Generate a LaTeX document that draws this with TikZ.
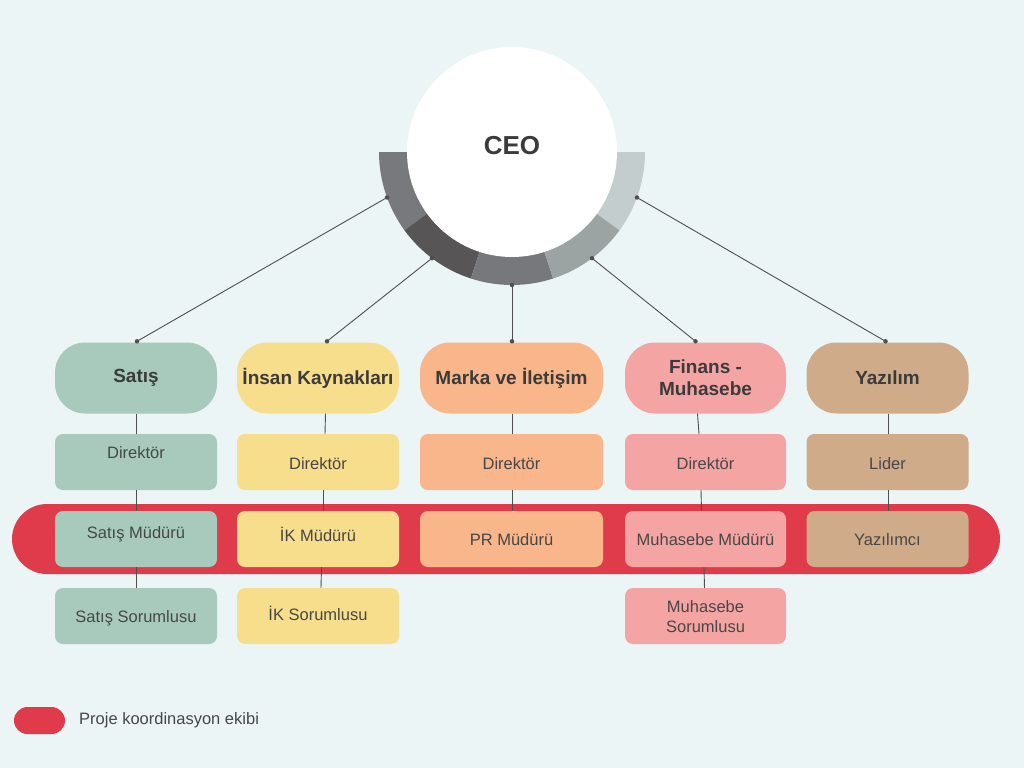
\documentclass[tikz,border=0pt]{standalone}
\usepackage{fontspec}
\setmainfont{Liberation Sans}
\definecolor{bg}{HTML}{EBF5F5}
\definecolor{bandred}{HTML}{E03B4A}
\definecolor{cSat}{HTML}{A8CABD}
\definecolor{cIK}{HTML}{F7DE8C}
\definecolor{cMar}{HTML}{F9B68A}
\definecolor{cFin}{HTML}{F5A4A4}
\definecolor{cYaz}{HTML}{CFAB89}
\definecolor{txt}{HTML}{474747}
\definecolor{txtb}{HTML}{3B3B3B}
\definecolor{linec}{HTML}{4F4F4F}
\definecolor{segA}{HTML}{78797C}
\definecolor{segB}{HTML}{575556}
\definecolor{segC}{HTML}{77787B}
\definecolor{segD}{HTML}{9BA4A3}
\definecolor{segE}{HTML}{C3CDCD}
\begin{document}
\begin{tikzpicture}[x=1pt,y=-1pt,
  dept/.style={rounded corners=30pt, minimum width=162pt, minimum height=71pt, inner sep=0pt, align=center, font=\fontsize{19}{22}\selectfont\bfseries, text=txtb},
  subbox/.style={rounded corners=8pt, minimum width=162pt, minimum height=56pt, inner sep=0pt},
  lbl/.style={font=\fontsize{16.5}{20}\selectfont, text=txt, align=center, inner sep=0pt},
  conn/.style={draw=linec, line width=0.9pt},
  dotc/.style={circle, fill=linec, inner sep=0pt, minimum size=4.5pt}]
\useasboundingbox (0,0) rectangle (1024,768);
\fill[bg] (0,0) rectangle (1024,768);

% project band
\node[fill=bandred, rounded corners=35pt, minimum width=988pt, minimum height=70pt, inner sep=0pt] (band) at (506,539) {};

% CEO ring
\begin{scope}[shift={(512,152)}]
  \fill[segA] (0,0) -- (180:133) arc[start angle=180, end angle=144, radius=133] -- cycle;
  \fill[segB] (0,0) -- (144:133) arc[start angle=144, end angle=108, radius=133] -- cycle;
  \fill[segC] (0,0) -- (108:133) arc[start angle=108, end angle=72, radius=133] -- cycle;
  \fill[segD] (0,0) -- (72:133) arc[start angle=72, end angle=36, radius=133] -- cycle;
  \fill[segE] (0,0) -- (36:133) arc[start angle=36, end angle=0, radius=133] -- cycle;
  \coordinate (r1) at (160:133);
  \coordinate (r2) at (127:133);
  \coordinate (r3) at (90:133);
  \coordinate (r4) at (53:133);
  \coordinate (r5) at (20:133);
\end{scope}
\node[circle, fill=white, minimum size=210pt, inner sep=0pt] (ceoc) at (512,152) {};
\node[font=\fontsize{26}{30}\selectfont\bfseries, text=txtb, inner sep=0pt] (ceo) at (512,146) {CEO};

% departments
\node[dept, fill=cSat] (sat) at (136,378) {Satış};
\node[dept, fill=cIK] (ik) at (318,378) {İnsan Kaynakları};
\node[dept, fill=cMar, minimum width=183pt] (mar) at (511.5,378) {Marka ve İletişim};
\node[dept, fill=cFin, minimum width=161pt] (fin) at (705.5,378) {Finans -\\Muhasebe};
\node[dept, fill=cYaz] (yaz) at (887.5,378) {Yazılım};

% sub boxes
\node[subbox, fill=cSat] (sat1) at (136,462) {};
\node[subbox, fill=cSat] (sat2) at (136,539) {};
\node[subbox, fill=cSat] (sat3) at (136,616) {};
\node[subbox, fill=cIK] (ik1) at (318,462) {};
\node[subbox, fill=cIK] (ik2) at (318,539) {};
\node[subbox, fill=cIK] (ik3) at (318,616) {};
\node[subbox, fill=cMar, minimum width=183pt] (mar1) at (511.5,462) {};
\node[subbox, fill=cMar, minimum width=183pt] (mar2) at (511.5,539) {};
\node[subbox, fill=cFin, minimum width=161pt] (fin1) at (705.5,462) {};
\node[subbox, fill=cFin, minimum width=161pt] (fin2) at (705.5,539) {};
\node[subbox, fill=cFin, minimum width=161pt] (fin3) at (705.5,616) {};
\node[subbox, fill=cYaz] (yaz1) at (887.5,462) {};
\node[subbox, fill=cYaz] (yaz2) at (887.5,539) {};

% labels
\node[lbl] (tsat1) at (136,453) {Direktör};
\node[lbl] (tsat2) at (136,534) {Satış Müdürü};
\node[lbl] (tsat3) at (136,618) {Satış Sorumlusu};
\node[lbl] (tik1) at (318,464) {Direktör};
\node[lbl] (tik2) at (318,534) {İK Müdürü};
\node[lbl] (tik3) at (318,613) {İK Sorumlusu};
\node[lbl] (tmar1) at (511.5,464) {Direktör};
\node[lbl] (tmar2) at (511.5,540) {PR Müdürü};
\node[lbl] (tfin1) at (705.5,464) {Direktör};
\node[lbl] (tfin2) at (705.5,540) {Muhasebe Müdürü};
\node[lbl] (tfin3) at (705.5,617) {Muhasebe\\Sorumlusu};
\node[lbl] (tyaz1) at (887.5,464) {Lider};
\node[lbl] (tyaz2) at (887.5,540) {Yazılımcı};

% connectors CEO -> departments
\draw[conn] (r1) -- ([xshift=1pt,yshift=1pt]sat.north);
\draw[conn] (r2) -- ([xshift=9pt,yshift=1pt]ik.north);
\draw[conn] (r3) -- ([xshift=0.5pt,yshift=1pt]mar.north);
\draw[conn] (r4) -- ([xshift=-10pt,yshift=1pt]fin.north);
\draw[conn] (r5) -- ([xshift=-2pt,yshift=1pt]yaz.north);
\foreach \p in {r1,r2,r3,r4,r5} \node[dotc] at (\p) {};
\node[dotc] (d1) at ([xshift=1pt,yshift=1pt]sat.north) {};
\node[dotc] (d2) at ([xshift=9pt,yshift=1pt]ik.north) {};
\node[dotc] (d3) at ([xshift=0.5pt,yshift=1pt]mar.north) {};
\node[dotc] (d4) at ([xshift=-10pt,yshift=1pt]fin.north) {};
\node[dotc] (d5) at ([xshift=-2pt,yshift=1pt]yaz.north) {};

% vertical connectors
\draw[conn] (sat.south) -- (sat1.north);
\draw[conn] (sat1.south) -- (sat2.north);
\draw[conn] (sat2.south) -- (sat3.north);
\draw[conn] ([xshift=7.5pt]ik.south) -- ([xshift=7pt]ik1.north);
\draw[conn] ([xshift=5pt]ik1.south) -- ([xshift=5pt]ik2.north);
\draw[conn] ([xshift=3.5pt]ik2.south) -- ([xshift=3pt]ik3.north);
\draw[conn] ([xshift=0.5pt]mar.south) -- ([xshift=0.5pt]mar1.north);
\draw[conn] ([xshift=0.5pt]mar1.south) -- ([xshift=0.5pt]mar2.north);
\draw[conn] ([xshift=-8pt]fin.south) -- ([xshift=-6.5pt]fin1.north);
\draw[conn] ([xshift=-4.5pt]fin1.south) -- ([xshift=-4pt]fin2.north);
\draw[conn] ([xshift=-1.5pt]fin2.south) -- ([xshift=-1pt]fin3.north);
\draw[conn] ([xshift=0.5pt]yaz.south) -- ([xshift=0.5pt]yaz1.north);
\draw[conn] ([xshift=0.5pt]yaz1.south) -- ([xshift=0.5pt]yaz2.north);

% legend
\node[fill=bandred, rounded corners=13.5pt, minimum width=51pt, minimum height=27pt, inner sep=0pt] (leg) at (39.5,720.5) {};
\node[anchor=west, font=\fontsize{16.5}{20}\selectfont, text=txt, inner sep=0pt] (legt) at (79,720) {Proje koordinasyon ekibi};
\end{tikzpicture}
\end{document}
